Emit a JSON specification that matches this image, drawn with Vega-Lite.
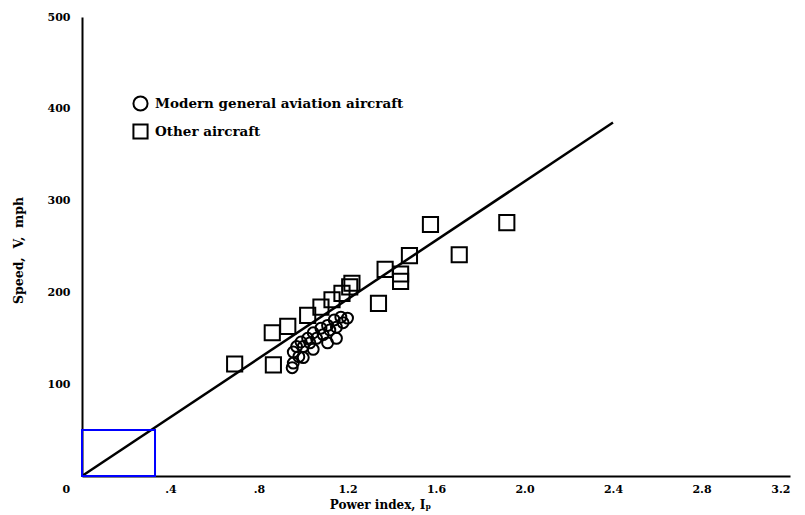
{
  "$schema": "https://vega.github.io/schema/vega-lite/v6.json",
  "width": 708,
  "height": 459,
  "autosize": {"type": "none"},
  "padding": {"left": 82, "top": 17, "right": 15, "bottom": 39},
  "background": "white",
  "config": {
    "view": {"stroke": null},
    "font": "DejaVu Serif"
  },
  "datasets": {
    "fit": [{"x": 0, "y": 0, "x2": 2.4, "y2": 385}],
    "box": [{"x": 0, "y": 0, "x2": 0.33, "y2": 50}],
    "other": [
      {"ip": 0.69, "v": 122, "type": "Other aircraft"},
      {"ip": 0.865, "v": 121, "type": "Other aircraft"},
      {"ip": 0.86, "v": 156, "type": "Other aircraft"},
      {"ip": 0.93, "v": 163, "type": "Other aircraft"},
      {"ip": 1.02, "v": 175, "type": "Other aircraft"},
      {"ip": 1.08, "v": 184, "type": "Other aircraft"},
      {"ip": 1.13, "v": 192, "type": "Other aircraft"},
      {"ip": 1.175, "v": 199, "type": "Other aircraft"},
      {"ip": 1.21, "v": 206, "type": "Other aircraft"},
      {"ip": 1.22, "v": 210, "type": "Other aircraft"},
      {"ip": 1.34, "v": 188, "type": "Other aircraft"},
      {"ip": 1.37, "v": 225, "type": "Other aircraft"},
      {"ip": 1.44, "v": 220, "type": "Other aircraft"},
      {"ip": 1.44, "v": 212, "type": "Other aircraft"},
      {"ip": 1.48, "v": 240, "type": "Other aircraft"},
      {"ip": 1.575, "v": 274, "type": "Other aircraft"},
      {"ip": 1.705, "v": 241, "type": "Other aircraft"},
      {"ip": 1.92, "v": 276, "type": "Other aircraft"}
    ],
    "modern": [
      {"ip": 0.955, "v": 123, "type": "Modern general aviation aircraft"},
      {"ip": 0.98, "v": 130, "type": "Modern general aviation aircraft"},
      {"ip": 0.955, "v": 135, "type": "Modern general aviation aircraft"},
      {"ip": 1.0, "v": 141, "type": "Modern general aviation aircraft"},
      {"ip": 1.03, "v": 145, "type": "Modern general aviation aircraft"},
      {"ip": 1.06, "v": 150, "type": "Modern general aviation aircraft"},
      {"ip": 1.09, "v": 154, "type": "Modern general aviation aircraft"},
      {"ip": 1.12, "v": 159, "type": "Modern general aviation aircraft"},
      {"ip": 1.15, "v": 162, "type": "Modern general aviation aircraft"},
      {"ip": 1.18, "v": 167, "type": "Modern general aviation aircraft"},
      {"ip": 1.2, "v": 172, "type": "Modern general aviation aircraft"},
      {"ip": 1.17, "v": 173, "type": "Modern general aviation aircraft"},
      {"ip": 1.14, "v": 170, "type": "Modern general aviation aircraft"},
      {"ip": 1.11, "v": 164, "type": "Modern general aviation aircraft"},
      {"ip": 1.08, "v": 161, "type": "Modern general aviation aircraft"},
      {"ip": 1.045, "v": 156, "type": "Modern general aviation aircraft"},
      {"ip": 1.02, "v": 150, "type": "Modern general aviation aircraft"},
      {"ip": 0.99, "v": 146, "type": "Modern general aviation aircraft"},
      {"ip": 0.97, "v": 141, "type": "Modern general aviation aircraft"},
      {"ip": 1.15, "v": 150, "type": "Modern general aviation aircraft"},
      {"ip": 1.11, "v": 145, "type": "Modern general aviation aircraft"},
      {"ip": 1.045, "v": 138, "type": "Modern general aviation aircraft"},
      {"ip": 1.0, "v": 129, "type": "Modern general aviation aircraft"},
      {"ip": 0.95, "v": 118, "type": "Modern general aviation aircraft"}
    ]
  },
  "encoding": {
    "x": {
      "field": "x", "type": "quantitative",
      "scale": {"domain": [0, 3.2], "nice": false, "zero": false},
      "axis": {
        "values": [0, 0.4, 0.8, 1.2, 1.6, 2.0, 2.4, 2.8, 3.2],
        "labelExpr": "datum.value == 0 ? '0' : (datum.value < 1 ? replace(format(datum.value, '.1f'), '0.', '.') : format(datum.value, '.1f'))",
        "labelOffset": {"condition": {"test": "datum.value == 0", "value": -20}, "value": 0},
        "labelPadding": 7,
        "labelFontSize": 11,
        "labelFontWeight": "bold",
        "labelColor": "black",
        "ticks": false,
        "grid": false,
        "domainColor": "black",
        "domainWidth": 2,
        "title": "Power index, Iₚ",
        "titleFontSize": 12,
        "titleFontWeight": "bold",
        "titleColor": "black",
        "titleX": 298,
        "titleY": 28,
        "titleBaseline": "middle"
      }
    },
    "y": {
      "field": "y", "type": "quantitative",
      "scale": {"domain": [0, 500], "nice": false},
      "axis": {
        "values": [100, 200, 300, 400, 500],
        "labelPadding": 12,
        "labelFontSize": 11,
        "labelFontWeight": "bold",
        "labelColor": "black",
        "ticks": false,
        "grid": false,
        "domainColor": "black",
        "domainWidth": 2,
        "title": "Speed,\u00a0\u00a0V,\u00a0\u00a0mph",
        "titleFontSize": 12.5,
        "titleFontWeight": "bold",
        "titleColor": "black",
        "titleX": -64,
        "titleY": 233,
        "titleAngle": -90,
        "titleAlign": "center",
        "titleBaseline": "middle"
      }
    }
  },
  "layer": [
    {
      "data": {"name": "fit"},
      "mark": {"type": "rule", "color": "black", "strokeWidth": 2.5},
      "encoding": {
        "x2": {"field": "x2"},
        "y2": {"field": "y2"}
      }
    },
    {
      "data": {"name": "box"},
      "mark": {"type": "rect", "fillOpacity": 0, "fill": "white", "stroke": "#0000ff", "strokeWidth": 2},
      "encoding": {
        "x2": {"field": "x2"},
        "y2": {"field": "y2"}
      }
    },
    {
      "data": {"name": "other"},
      "mark": {"type": "point", "filled": false, "color": "black", "strokeWidth": 2, "opacity": 1, "size": 230},
      "encoding": {
        "x": {"field": "ip", "type": "quantitative"},
        "y": {"field": "v", "type": "quantitative"},
        "shape": {"field": "type", "type": "nominal"}
      }
    },
    {
      "data": {"name": "modern"},
      "mark": {"type": "point", "filled": false, "color": "black", "strokeWidth": 2, "opacity": 1, "size": 120},
      "encoding": {
        "x": {"field": "ip", "type": "quantitative"},
        "y": {"field": "v", "type": "quantitative"},
        "shape": {
          "field": "type", "type": "nominal",
          "scale": {"domain": ["Modern general aviation aircraft", "Other aircraft"], "range": ["circle", "square"]},
          "legend": {
            "title": null,
            "orient": "none",
            "legendX": 50,
            "legendY": 78,
            "labelFontSize": 13.5,
            "labelFontWeight": "bold",
            "labelColor": "black",
            "labelLimit": 0,
            "symbolStrokeColor": "black",
            "symbolStrokeWidth": 2,
            "symbolSize": 200,
            "rowPadding": 5,
            "labelOffset": 6
          }
        }
      }
    }
  ]
}
